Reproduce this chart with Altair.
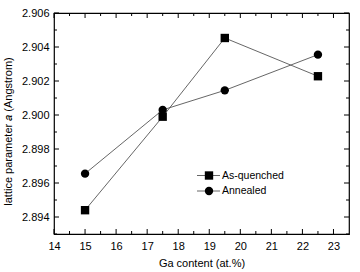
import altair as alt
import pandas as pd

# Lattice parameter vs. Ga content for two heat-treatment states
ga = [15, 17.5, 19.5, 22.5]
as_quenched = [2.8944, 2.8999, 2.90453, 2.90228]
annealed = [2.89655, 2.9003, 2.90145, 2.90355]

x_major = [14, 15, 16, 17, 18, 19, 20, 21, 22, 23]
x_minor = [14.5, 15.5, 16.5, 17.5, 18.5, 19.5, 20.5, 21.5, 22.5]
y_major = [2.894, 2.896, 2.898, 2.900, 2.902, 2.904, 2.906]
y_minor = [2.893, 2.895, 2.897, 2.899, 2.901, 2.903, 2.905]

W, H = 295, 221
FONT = "Liberation Sans"

df = pd.DataFrame(
    {"ga": ga * 2,
     "a": as_quenched + annealed,
     "series": ["As-quenched"] * 4 + ["Annealed"] * 4}
)

xs = alt.Scale(domain=[14, 23.5], nice=False, zero=False)
ys = alt.Scale(domain=[2.893, 2.906], nice=False, zero=False)

x_axis = alt.Axis(values=x_major, title="Ga content (at.%)", ticks=False, domain=False,
                  grid=False, labelPadding=6, titlePadding=6, format="d",
                  labelOverlap=False, labelFlush=False)
y_axis = alt.Axis(values=y_major, title="lattice parameter 𝑎 (Angstrom)", ticks=False,
                  domain=False, grid=False, labelPadding=5, titlePadding=8, format=".3f",
                  labelOverlap=False, labelFlush=False, titleY=118)


def X(field):
    return alt.X(field, scale=xs, axis=x_axis)


def Y(field):
    return alt.Y(field, scale=ys, axis=y_axis)


base = alt.Chart(df)

lines = base.mark_line(color="#555555", strokeWidth=0.9).encode(
    x=X("ga:Q"), y=Y("a:Q"), detail="series:N",
)

points = base.mark_point(filled=True, opacity=1, color="black", size=70).encode(
    x=X("ga:Q"), y=Y("a:Q"),
    shape=alt.Shape("series:N",
                    scale=alt.Scale(domain=["As-quenched", "Annealed"],
                                    range=["square", "circle"]),
                    legend=None),
)


# inward tick marks on all four sides
def xticks(vals, length):
    d = pd.DataFrame({"v": vals})
    bottom = alt.Chart(d).mark_rule(color="black", strokeWidth=1).encode(
        x=X("v:Q"), y=alt.value(H), y2=alt.value(H - length))
    top = alt.Chart(d).mark_rule(color="black", strokeWidth=1).encode(
        x=X("v:Q"), y=alt.value(0), y2=alt.value(length))
    return [bottom, top]


def yticks(vals, length):
    d = pd.DataFrame({"v": vals})
    left = alt.Chart(d).mark_rule(color="black", strokeWidth=1).encode(
        y=Y("v:Q"), x=alt.value(0), x2=alt.value(length))
    right = alt.Chart(d).mark_rule(color="black", strokeWidth=1).encode(
        y=Y("v:Q"), x=alt.value(W), x2=alt.value(W - length))
    return [left, right]


ticks = xticks(x_major, 5) + xticks(x_minor, 3) + yticks(y_major, 5) + yticks(y_minor, 3)

# legend drawn inside the plot
labels = ["As-quenched", "Annealed"]
shapes = ["square", "circle"]
rows = [162.5, 178]
one = pd.DataFrame({"k": [0]})
legend = []
for lab, shp, r in zip(labels, shapes, rows):
    legend.append(alt.Chart(one).mark_rule(color="#555555", strokeWidth=0.9).encode(
        x=alt.value(143), x2=alt.value(166), y=alt.value(r)))
    legend.append(alt.Chart(one).mark_point(
        filled=True, opacity=1, color="black", size=70, shape=shp).encode(
        x=alt.value(155), y=alt.value(r)))
    legend.append(alt.Chart(one).mark_text(
        align="left", baseline="middle", font=FONT, fontSize=10.5, color="black",
        text=lab).encode(x=alt.value(168), y=alt.value(r)))

chart = alt.layer(lines, points, *ticks, *legend).properties(
    width=W, height=H,
    autosize=alt.AutoSizeParams(type="none"),
    padding={"left": 54, "top": 13, "right": 11, "bottom": 38},
    background="white",
).configure_view(stroke="black", strokeWidth=1.2).configure_axis(
    labelFont=FONT, titleFont=FONT, labelFontSize=11, titleFontSize=11,
    labelColor="black", titleColor="black", titleFontWeight="normal",
)

chart.save("out.html", embed_options={"renderer": "svg", "actions": False})
